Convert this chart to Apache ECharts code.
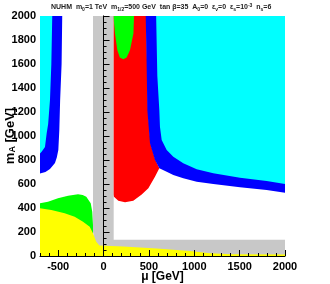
<!DOCTYPE html>
<html><head><meta charset="utf-8">
<script src="https://cdn.jsdelivr.net/npm/echarts@6/dist/echarts.min.js"></script>
<style>html,body{margin:0;padding:0;background:#fff}#c{width:330px;height:284px}</style>
</head><body><div id="c"></div>
<script>
const xMin = -700, xMax = 2000, yMin = 0, yMax = 2000;
const xMajorTicks = [-500, 0, 500, 1000, 1500, 2000];
const yTickLabels = [0, 200, 400, 600, 800, 1000, 1200, 1400, 1600, 1800, 2000];

// region boundaries [mu, mA] in GeV
const cyanLeft = [[-700,2000],[-565,2000],[-575,1600],[-590,1300],[-610,1100],[-626,1025],[-645,908],[-680,870],[-700,855]];
const blueLeft = [[-700,2000],[-455,2000],[-462,1600],[-478,1300],[-487,1050],[-498,883],[-515,820],[-535,775],[-590,725],[-640,700],[-700,688]];
const greyBand = [[-116,2000],[112,2000],[112,135],[2000,135],[2000,0],[-70,0],[-70,80],[-100,140],[-116,200]];
const greenLeft = [[-700,100],[-700,439],[-612,453],[-502,481],[-391,503],[-281,514],[-230,508],[-190,494],[-141,439],[-124,369],[-116,258],[-116,100]];
const yellowLow = [[-700,0],[-700,397],[-575,383],[-428,356],[-318,328],[-226,286],[-152,244],[-116,189],[-80,119],[-46,88],[218,80],[586,62],[953,42],[1173,22],[1400,14],[2000,12],[2000,0]];
const redMid = [[112,2000],[470,2000],[480,1600],[490,1217],[518,939],[572,800],[615,731],[567,661],[494,564],[421,512],[328,461],[237,447],[163,461],[115,494],[112,510]];
const greenTop = [[112,2000],[336,2000],[330,1856],[292,1717],[255,1655],[218,1640],[180,1655],[152,1717],[126,1856],[115,1950]];
const blueRight = [[465,2000],[475,1600],[483,1217],[512,939],[567,800],[615,731],[696,703],[769,675],[879,647],[1027,619],[1210,600],[1504,572],[1798,550],[2000,528],[2000,2000]];
const cyanRight = [[580,2000],[593,1500],[615,1217],[622,1078],[641,967],[696,883],[769,828],[879,772],[1027,722],[1210,689],[1504,653],[1798,625],[2000,600],[2000,2000]];

const regions = [
  {pts: greyBand, color: '#c8c8c8'},
  {pts: redMid, color: '#ff0000'},
  {pts: greenTop, color: '#00ff00'},
  {pts: blueRight, color: '#0000ff'},
  {pts: cyanRight, color: '#00ffff'},
  {pts: greenLeft, color: '#00ff00'},
  {pts: yellowLow, color: '#ffff00'},
  {pts: blueLeft, color: '#0000ff'},
  {pts: cyanLeft, color: '#00ffff'}
];

const FF = 'Liberation Sans';
const chart = echarts.init(document.getElementById('c'), null, {renderer: 'canvas'});
chart.setOption({
  animation: false,
  backgroundColor: '#fff',
  title: {
    text: 'NUHM  m{s|0}=1 TeV  m{s|1/2}=500 GeV  tan β=35  A{s|0}=0  ε{s|ν}=0  ε{s|s}=10{p|-3}  n{s|s}=6',
    left: 51, top: 3, padding: 0,
    textStyle: {fontFamily: FF, fontSize: 7, fontWeight: 'bold', color: '#222',
      rich: {s: {fontFamily: FF, fontSize: 5, fontWeight: 'bold', color: '#222', verticalAlign: 'bottom', padding: [4,0,0,0]},
             p: {fontFamily: FF, fontSize: 5, fontWeight: 'bold', color: '#222', verticalAlign: 'top', padding: [0,0,4,0]}}}
  },
  grid: {left: 40, right: 45, top: 16, bottom: 28, containLabel: false, outerBoundsMode: 'none'},
  xAxis: [{
    type: 'value', min: xMin, max: xMax, interval: 100, z: 5,
    axisLine: {show: true, lineStyle: {color: '#000', width: 1}},
    axisTick: {show: true, inside: true, length: 3, lineStyle: {color: '#000'}},
    splitLine: {show: false},
    axisLabel: {fontFamily: FF, fontSize: 11, fontWeight: 'bold', color: '#000', margin: 5,
      formatter: v => (xMajorTicks.indexOf(v) >= 0 ? String(v) : '')},
    name: 'μ [GeV]', nameLocation: 'middle', nameGap: 15, nameMoveOverlap: false,
    nameTextStyle: {fontFamily: FF, fontSize: 12, fontWeight: 'bold', color: '#000', verticalAlign: 'top'}
  }, {
    type: 'value', min: xMin, max: xMax, position: 'bottom', z: 5,
    axisLine: {show: false},
    axisTick: {show: true, inside: true, length: 6, customValues: xMajorTicks, lineStyle: {color: '#000'}},
    axisLabel: {show: false}, splitLine: {show: false}
  }],
  yAxis: [{
    type: 'value', min: yMin, max: yMax, interval: 200, z: 5,
    axisLine: {show: true, lineStyle: {color: '#000', width: 1}},
    axisTick: {show: true, inside: true, length: 6, lineStyle: {color: '#000'}},
    minorTick: {show: true, splitNumber: 4, length: 3, lineStyle: {color: '#000'}},
    splitLine: {show: false},
    axisLabel: {fontFamily: FF, fontSize: 11, fontWeight: 'bold', color: '#000', margin: 4,
      formatter: v => (yTickLabels.indexOf(v) >= 0 ? String(v) : '')},
    name: '{a|m}{b|A}{a| [GeV]}', nameLocation: 'middle', nameGap: 23, nameRotate: 90, nameMoveOverlap: false,
    nameTextStyle: {rich: {a: {fontFamily: FF, fontSize: 13, fontWeight: 'bold', color: '#000'},
                           b: {fontFamily: FF, fontSize: 9, fontWeight: 'bold', color: '#000', verticalAlign: 'bottom', padding: [5,0,0,0]}}}
  }, {
    type: 'value', min: yMin, max: yMax, position: 'right', z: 0,
    axisLine: {show: true, lineStyle: {color: '#777', width: 1}},
    axisTick: {show: false}, axisLabel: {show: false}, splitLine: {show: false}
  }],
  series: regions.map(r => ({
    type: 'custom', coordinateSystem: 'cartesian2d', xAxisIndex: 0, yAxisIndex: 0,
    silent: true, z: 2, data: [[0, 0]],
    renderItem: (params, api) => ({
      type: 'polygon',
      shape: {points: r.pts.map(p => api.coord(p))},
      style: {fill: r.color, stroke: null}
    })
  }))
});
</script></body></html>
